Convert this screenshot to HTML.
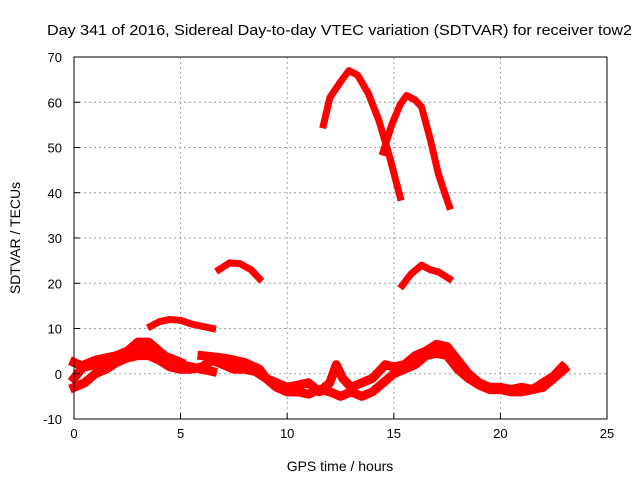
<!DOCTYPE html>
<html><head><meta charset="utf-8"><style>
body{margin:0;background:#fff;}
svg text{font-family:"Liberation Sans",sans-serif;fill:#000;}
</style></head><body>
<svg id="chart" width="640" height="480" xmlns="http://www.w3.org/2000/svg">
<text x="47" y="35" font-size="15" textLength="585" lengthAdjust="spacingAndGlyphs">Day 341 of 2016, Sidereal Day-to-day VTEC variation (SDTVAR) for receiver tow2</text>
<text x="340" y="471" font-size="14" text-anchor="middle">GPS time / hours</text>
<text x="20" y="238" font-size="14" text-anchor="middle" transform="rotate(-90 20 238)">SDTVAR / TECUs</text>
<g id="grid"></g><g id="marks"></g><g id="axes"></g>
</svg>
<script>
const xTicks=[0,5,10,15,20,25];
const yTicks=[-10,0,10,20,30,40,50,60,70];
const arcA=[[11.7,55],[12.0,61],[12.5,64.5],[12.9,67],[13.3,66],[13.8,62],[14.3,56],[14.8,48],[15.3,39]];
const arcB=[[14.5,49],[14.9,55],[15.3,59.5],[15.6,61.5],[16.0,60.5],[16.3,59],[16.7,52],[17.1,44],[17.6,37]];
const arcC=[[6.8,23],[7.3,24.5],[7.8,24.3],[8.3,23],[8.7,21]];
const arcD=[[15.4,19.5],[15.8,22],[16.3,24],[16.7,23],[17.1,22.5],[17.6,21]];
const arcE=[[3.6,10.5],[4.0,11.5],[4.5,12],[5.0,11.8],[5.5,11],[6.0,10.5],[6.5,10]];
const trackF=[[0,-3],[0.5,-2],[1,0],[1.5,1],[2,2.5],[2.5,3.5],[3,4],[3.5,4],[4,3],[4.5,1.5],[5,1],[5.5,1],[6,1.5],[6.5,3],[7,2],[7.5,1],[8,1],[8.5,0.5],[9,-1],[9.5,-3],[10,-4],[10.5,-4],[11,-4.5],[11.5,-3.5],[12,-4],[12.5,-5],[13,-4],[13.5,-5],[14,-4],[14.5,-2],[15,0],[15.5,1],[16,2],[16.5,4],[17,4.5],[17.5,4],[18,1],[18.5,-1],[19,-2.5],[19.5,-3.5],[20,-3.5],[20.5,-4],[21,-4],[21.5,-3.5],[22,-3],[22.5,-1],[23,1]];
const trackG=[[0,-1],[0.5,2],[1,3],[1.5,3.5],[2,4],[2.5,5],[3,7],[3.5,7],[4,5],[4.5,3],[5,2],[5.5,1.5],[6,1],[6.5,0.5]];
const trackH=[[0,2.5],[0.5,1.5],[1,2],[2,4],[3,6],[3.5,5],[4,4],[4.5,3.5],[5,2.5]];
const trackI=[[6,4],[7,3.5],[8,2.5],[8.7,1],[9,-1],[10,-3],[11,-2],[11.5,-4],[12,-2],[12.3,2],[12.6,-1],[13,-3],[13.5,-2],[14,-1],[14.6,2],[15,1.5],[15.5,2],[16,4],[16.5,5],[17,6.5],[17.5,6],[18,3],[18.5,0],[19,-2],[19.5,-3],[20,-3],[20.5,-3.5],[21,-3],[21.5,-3.5],[22,-2],[22.5,-0.5],[22.9,1.5]];
const series={"arc-a":arcA,"arc-b":arcB,"arc-c":arcC,"arc-d":arcD,"arc-e":arcE,"track-f":trackF,"track-g":trackG,"track-h":trackH,"track-i":trackI};
const X0=74,X1=607,Y0=419,Y1=57;
const xs=v=>X0+(v-0)/(25-0)*(X1-X0);
const ys=v=>Y0-(v+10)/80*(Y0-Y1);
const NS="http://www.w3.org/2000/svg";
const grid=document.getElementById('grid'),axes=document.getElementById('axes'),marks=document.getElementById('marks');
function mk(tag,attrs,parent){const e=document.createElementNS(NS,tag);for(const k in attrs)e.setAttribute(k,attrs[k]);parent.appendChild(e);return e;}
xTicks.forEach(t=>{
  if(t>0&&t<25){const g=mk('line',{x1:xs(t),x2:xs(t),y1:Y0,y2:Y1,stroke:'#a0a0a0','stroke-dasharray':'2,3'},grid);
  
  }
  const tk=mk('line',{x1:xs(t),x2:xs(t),y1:Y0,y2:Y0-6,stroke:'#000'},axes);
  
  
  const tx=mk('text',{x:xs(t),y:Y0+19,'font-size':13,'text-anchor':'middle'},axes);tx.textContent=t;
  
  
});
yTicks.forEach(t=>{
  if(t>-10&&t<70){const g=mk('line',{x1:X0,x2:X1,y1:ys(t),y2:ys(t),stroke:'#a0a0a0','stroke-dasharray':'2,3'},grid);
  
  }
  const tk=mk('line',{x1:X0,x2:X0+6,y1:ys(t),y2:ys(t),stroke:'#000'},axes);
  
  
  const tx=mk('text',{x:X0-12,y:ys(t)+5,'font-size':13,'text-anchor':'end'},axes);tx.textContent=t;
  
  
});
const fr=mk('rect',{x:X0,y:Y1,width:X1-X0,height:Y0-Y1,fill:'none',stroke:'#000'},axes);


for(const name in series){
  const pts=series[name].map(p=>xs(p[0])+','+ys(p[1])).join(' ');
  const w=name.startsWith('track')?9:7;
  const pl=mk('polyline',{points:pts,fill:'none',stroke:'#ff0000','stroke-width':w,'stroke-linejoin':'round','stroke-linecap':'square'},marks);
  
  
}
</script>
</body></html>
